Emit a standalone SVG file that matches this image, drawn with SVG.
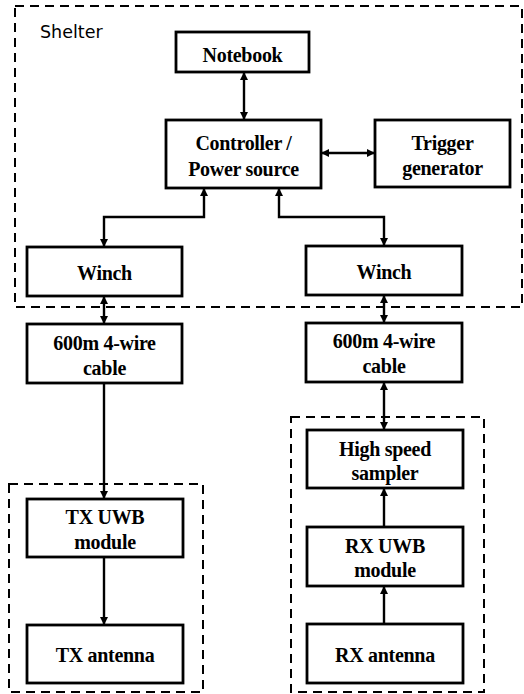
<svg xmlns="http://www.w3.org/2000/svg" width="524" height="694" viewBox="0 0 524 694">
<style>
.box{fill:#fff;stroke:#000;stroke-width:2.8}
.grp{fill:none;stroke:#000;stroke-width:2;stroke-dasharray:9,6}
.lbl{font-family:"Liberation Serif","Times New Roman",serif;font-weight:bold;font-size:20px;letter-spacing:-0.3px;text-anchor:middle;fill:#000}
.ttl{font-family:"DejaVu Sans",Verdana,sans-serif;font-size:17.5px;fill:#000}
.cn{fill:none;stroke:#000;stroke-width:2.4}
.one{marker-end:url(#ah)}
.two{marker-start:url(#ah);marker-end:url(#ah)}
</style>
<defs>
<marker id="ah" viewBox="0 0 10 10" refX="10" refY="5" markerWidth="9" markerHeight="8" markerUnits="userSpaceOnUse" orient="auto-start-reverse">
<path d="M0,0 L10,5 L0,10 z" fill="#000"/>
</marker>
</defs>
<g id="groups">
<rect id="shelter-box" class="grp" x="15" y="6" width="507" height="301"/>
<text class="ttl" x="40" y="38">Shelter</text>
<rect id="tx-group" class="grp" x="9" y="484" width="194" height="208"/>
<rect id="rx-group" class="grp" x="291" y="417" width="193" height="275"/>
</g>
<g id="connectors">
<path class="cn two" d="M244,72 V120"/>
<path class="cn two" d="M321,153 H375"/>
<path class="cn two" d="M204,188 V217 H104 V247"/>
<path class="cn two" d="M279,188 V217 H384 V246"/>
<path class="cn two" d="M104,296 V324"/>
<path class="cn two" d="M384,295 V323"/>
<path class="cn one" d="M104,383 V499"/>
<path class="cn one" d="M104,557 V625"/>
<path class="cn two" d="M384,382 V430"/>
<path class="cn one" d="M384,527 V488"/>
<path class="cn one" d="M384,624 V586"/>
</g>
<g id="notebook"><rect class="box" x="176" y="32" width="133" height="40"/><text class="lbl" x="242.5" y="62">Notebook</text></g>
<g id="controller"><rect class="box" x="166" y="120" width="155" height="68"/><text class="lbl" x="243.5" y="150">Controller /</text><text class="lbl" x="243.5" y="176">Power source</text></g>
<g id="trigger"><rect class="box" x="375" y="120" width="135" height="67"/><text class="lbl" x="442.5" y="150">Trigger</text><text class="lbl" x="442.5" y="175">generator</text></g>
<g id="winch-left"><rect class="box" x="27" y="247" width="155" height="49"/><text class="lbl" x="104.5" y="280">Winch</text></g>
<g id="winch-right"><rect class="box" x="306" y="246" width="156" height="49"/><text class="lbl" x="384" y="279">Winch</text></g>
<g id="cable-left"><rect class="box" x="27" y="324" width="155" height="59"/><text class="lbl" x="104.5" y="350">600m 4-wire</text><text class="lbl" x="104.5" y="375">cable</text></g>
<g id="cable-right"><rect class="box" x="306" y="323" width="156" height="59"/><text class="lbl" x="384" y="348">600m 4-wire</text><text class="lbl" x="384" y="373">cable</text></g>
<g id="tx-uwb"><rect class="box" x="27" y="499" width="156" height="58"/><text class="lbl" x="105" y="524">TX UWB</text><text class="lbl" x="105" y="549">module</text></g>
<g id="tx-antenna"><rect class="box" x="27" y="625" width="156" height="58"/><text class="lbl" x="105" y="662">TX antenna</text></g>
<g id="sampler"><rect class="box" x="307" y="430" width="156" height="58"/><text class="lbl" x="385" y="456">High speed</text><text class="lbl" x="385" y="480">sampler</text></g>
<g id="rx-uwb"><rect class="box" x="307" y="527" width="156" height="59"/><text class="lbl" x="385" y="553">RX UWB</text><text class="lbl" x="385" y="577">module</text></g>
<g id="rx-antenna"><rect class="box" x="307" y="624" width="156" height="59"/><text class="lbl" x="385" y="662">RX antenna</text></g>
</svg>
